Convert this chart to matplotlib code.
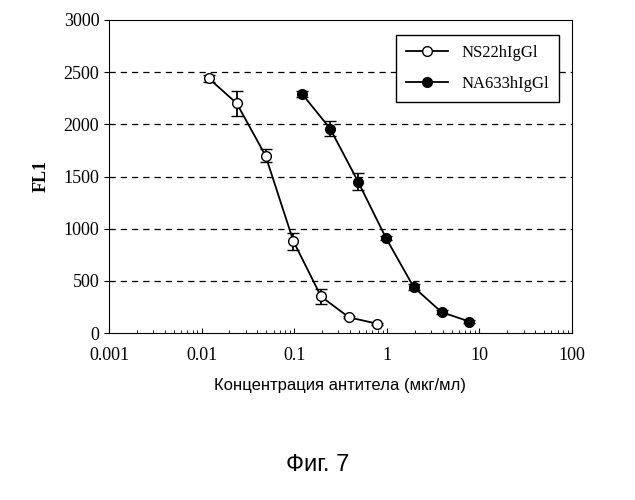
import matplotlib
matplotlib.use("Agg")
import matplotlib.pyplot as plt
from matplotlib.lines import Line2D

conc_open = [0.012, 0.024, 0.049, 0.098, 0.195, 0.39, 0.78]
fl_open = [2440, 2200, 1700, 880, 350, 150, 90]
err_open = [30, 120, 60, 80, 70, 10, 10]

conc_filled = [0.122, 0.244, 0.49, 0.98, 1.95, 3.9, 7.8]
fl_filled = [2290, 1960, 1450, 910, 440, 200, 110]
err_filled = [30, 70, 80, 20, 30, 20, 10]

x_ticks = [0.001, 0.01, 0.1, 1, 10, 100]
x_labels = ["0.001", "0.01", "0.1", "1", "10", "100"]
y_ticks = [0, 500, 1000, 1500, 2000, 2500, 3000]

serif = "Liberation Serif"
sans = "Liberation Sans"

fig = plt.figure(figsize=(6.35, 5.0), dpi=100)
ax = fig.add_axes([109 / 635, 1 - 333 / 500, (572 - 109) / 635, (333 - 20) / 500])

ax.errorbar(conc_open, fl_open, yerr=err_open, color="black", marker="o",
            mfc="white", mec="black", ms=7, lw=1.3, capsize=4)
ax.errorbar(conc_filled, fl_filled, yerr=err_filled, color="black", marker="o",
            mfc="black", mec="black", ms=7, lw=1.3, capsize=4)

ax.set_xscale("log")
ax.set_xlim(0.001, 100)
ax.set_ylim(0, 3000)
ax.set_xticks(x_ticks)
ax.set_xticklabels(x_labels, fontfamily=serif, fontsize=13)
ax.set_yticks(y_ticks)
ax.set_yticklabels([str(v) for v in y_ticks], fontfamily=serif, fontsize=13)
ax.tick_params(axis="x", which="both", direction="in", pad=10)
ax.tick_params(axis="y", direction="out")
for y in y_ticks[1:-1]:
    ax.axhline(y, color="black", ls=(0, (5, 4)), lw=0.9, zorder=0)

ax.set_ylabel("FL1", fontfamily=serif, fontsize=13, fontweight="bold", labelpad=10)
ax.set_xlabel("Концентрация антитела (мкг/мл)", fontfamily=sans, fontsize=12, labelpad=10)

handles = [
    Line2D([], [], color="black", marker="o", mfc="white", mec="black", ms=7, lw=1.3),
    Line2D([], [], color="black", marker="o", mfc="black", mec="black", ms=7, lw=1.3),
]
leg = ax.legend(handles, ["NS22hIgGl", "NA633hIgGl"], loc="upper right",
                prop={"family": serif, "size": 12}, frameon=True, fancybox=False,
                edgecolor="black", handlelength=2.5, labelspacing=0.9,
                borderpad=0.6, bbox_to_anchor=(0.99, 0.98), framealpha=1)
leg.get_frame().set_linewidth(1)

fig.text(0.5, 1 - 465 / 500, "Фиг. 7", fontfamily=sans, fontsize=17, ha="center", va="center")

fig.savefig("out.png", dpi=100)
